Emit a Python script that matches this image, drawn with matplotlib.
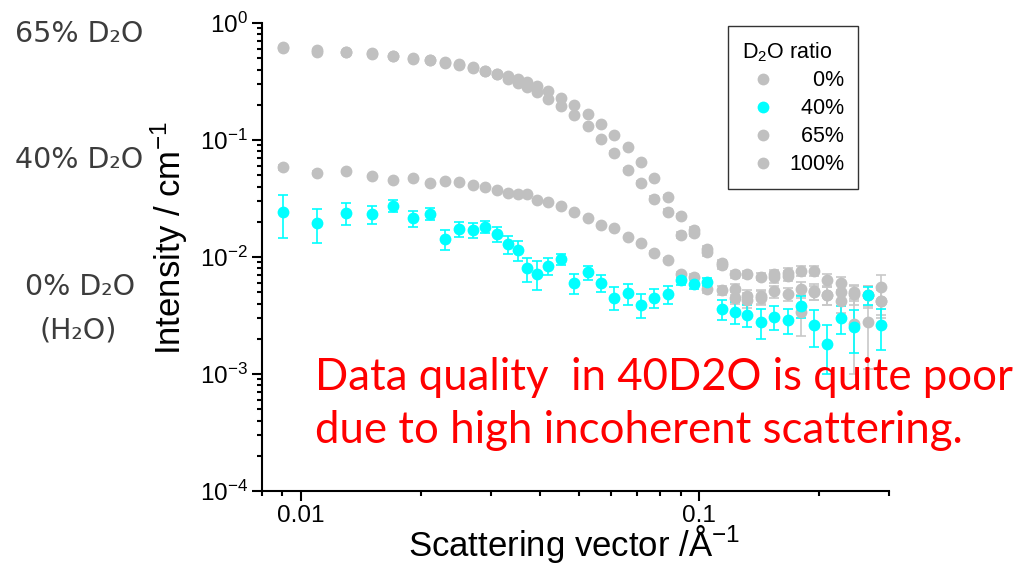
import numpy as np
import matplotlib
matplotlib.use('Agg')
import matplotlib.pyplot as plt
from matplotlib.lines import Line2D
from matplotlib.ticker import NullFormatter, FixedLocator, FixedFormatter, LogLocator

plt.rcParams['font.family'] = ['Liberation Sans', 'DejaVu Sans']
plt.rcParams['mathtext.fontset'] = 'custom'
plt.rcParams['mathtext.rm'] = 'Liberation Sans'
plt.rcParams['mathtext.it'] = 'Liberation Sans:italic'
plt.rcParams['mathtext.bf'] = 'Liberation Sans:bold'

# scattering vector (1/A)
q = [0.00905, 0.0110, 0.0130, 0.0151, 0.0171, 0.0191, 0.0211, 0.0231, 0.0250, 0.0271,
     0.0290, 0.0311, 0.0332, 0.0351, 0.0371, 0.0392, 0.0418, 0.0451, 0.0487, 0.0526,
     0.0568, 0.0613, 0.0663, 0.0715, 0.0773, 0.0835, 0.0902, 0.0973, 0.105, 0.114,
     0.123, 0.132, 0.143, 0.154, 0.167, 0.180, 0.195, 0.210, 0.227, 0.245,
     0.265, 0.286]

# 100% D2O
i100 = [0.620, 0.585, 0.565, 0.551, 0.522, 0.499, 0.483, 0.461, 0.443, 0.418,
        0.391, 0.368, 0.352, 0.330, 0.311, 0.290, 0.264, 0.229, 0.199, 0.166,
        0.136, 0.110, 0.0866, 0.0645, 0.0470, 0.0327, 0.0225, 0.0170, 0.0116, 0.0088,
        0.0071, 0.0071, 0.0068, 0.0071, 0.0073, 0.0076, 0.0076, 0.0064, 0.0060, 0.0050,
        0.0047, 0.0055]
e100 = [0.012, 0.011, 0.010, 0.010, 0.009, 0.009, 0.008, 0.008, 0.008, 0.007,
        0.007, 0.006, 0.006, 0.006, 0.005, 0.005, 0.005, 0.004, 0.004, 0.003,
        0.003, 0.003, 0.002, 0.002, 0.0015, 0.0012, 0.0010, 0.0009, 0.0008, 0.0006,
        0.0005, 0.0005, 0.0005, 0.0006, 0.0007, 0.0007, 0.0007, 0.0008, 0.0008, 0.0008,
        0.0009, 0.0015]

# 65% D2O
i65 = [0.615, 0.570, 0.560, 0.548, 0.520, 0.496, 0.480, 0.458, 0.440, 0.415,
       0.388, 0.366, 0.330, 0.305, 0.282, 0.259, 0.224, 0.195, 0.163, 0.132,
       0.101, 0.0780, 0.0552, 0.0429, 0.0316, 0.0244, 0.0154, 0.0160, 0.0110, 0.0085,
       0.0053, 0.0046, 0.0045, 0.0067, 0.0069, 0.0053, 0.0051, 0.0047, 0.0050, 0.0048,
       0.0028, 0.0042]
e65 = [0.012, 0.011, 0.010, 0.010, 0.009, 0.009, 0.008, 0.008, 0.008, 0.007,
       0.007, 0.006, 0.006, 0.006, 0.005, 0.005, 0.005, 0.004, 0.004, 0.003,
       0.003, 0.003, 0.002, 0.002, 0.0015, 0.0012, 0.0010, 0.0009, 0.0008, 0.0006,
       0.0006, 0.0006, 0.0006, 0.0007, 0.0007, 0.0008, 0.0008, 0.0008, 0.0009, 0.0009,
       0.0017, 0.0012]

# 0% D2O
i0 = [0.0585, 0.0526, 0.0540, 0.0492, 0.0458, 0.0477, 0.0431, 0.0446, 0.0440, 0.0412,
      0.0394, 0.0372, 0.0354, 0.0346, 0.0346, 0.0306, 0.0294, 0.0272, 0.0244, 0.0217,
      0.0188, 0.0176, 0.0148, 0.0132, 0.0109, 0.0095, 0.0072, 0.0067, 0.0053, 0.0052,
      0.0045, 0.0043, 0.0046, 0.0051, 0.0048, 0.0034, 0.0050, 0.0047, 0.0042, 0.0027,
      0.0047, 0.0042]
e0 = [0.0030, 0.0015, 0.0015, 0.0012, 0.0010, 0.0010, 0.0009, 0.0009, 0.0008, 0.0008,
      0.0007, 0.0007, 0.0006, 0.0006, 0.0006, 0.0005, 0.0005, 0.0005, 0.0004, 0.0004,
      0.0004, 0.0003, 0.0003, 0.0003, 0.0003, 0.0003, 0.0003, 0.0004, 0.0004, 0.0005,
      0.0005, 0.0006, 0.0006, 0.0006, 0.0006, 0.0013, 0.0007, 0.0008, 0.0009, 0.0017,
      0.0010, 0.0010]

# 40% D2O
i40 = [0.0241, 0.0196, 0.0238, 0.0232, 0.0274, 0.0214, 0.0235, 0.0142, 0.0173, 0.0170,
       0.0181, 0.0157, 0.0128, 0.0114, 0.0080, 0.0072, 0.0084, 0.0096, 0.0060, 0.0074,
       0.0060, 0.0045, 0.0049, 0.0039, 0.0045, 0.0048, 0.0063, 0.0059, 0.0061, 0.0036,
       0.0034, 0.0032, 0.0028, 0.0031, 0.0029, 0.0038, 0.0026, 0.0018, 0.0030, 0.0025,
       0.0047, 0.0026]
e40 = [0.0096, 0.0063, 0.0049, 0.0042, 0.0033, 0.0035, 0.0029, 0.0027, 0.0025, 0.0025,
       0.0022, 0.0022, 0.0022, 0.0022, 0.0019, 0.0020, 0.0014, 0.0011, 0.0012, 0.0010,
       0.0010, 0.0010, 0.0010, 0.0009, 0.0008, 0.0008, 0.0005, 0.0006, 0.0005, 0.0007,
       0.0007, 0.0007, 0.0008, 0.0007, 0.0007, 0.0008, 0.0009, 0.0008, 0.0008, 0.0010,
       0.0008, 0.0010]

legend_labels = ['0%', '40%', '65%', '100%']

W, H = 1019, 571
fig = plt.figure(figsize=(W/100, H/100), dpi=100)
ax = fig.add_axes([262/W, 1-491/H, 627/W, 468/H])

grey, egrey, cyan = '#C0C0C0', '#C8C8C8', '#00FFFF'
ms = 8.5
for y, e in [(i0, e0), (i65, e65), (i100, e100)]:
    ax.errorbar(q, y, yerr=e, fmt='o', color=grey, ms=ms, mec='none',
                ecolor=egrey, elinewidth=1.2, capsize=3.5, capthick=1.2)
ax.errorbar(q, i40, yerr=e40, fmt='o', color=cyan, ms=ms, mec='none',
            ecolor=cyan, elinewidth=1.2, capsize=3.8, capthick=1.2)

ax.set_xscale('log')
ax.set_yscale('log')
ax.set_xlim(0.008, 0.3)
ax.set_ylim(1e-4, 1)

for s in ['top', 'right']:
    ax.spines[s].set_visible(False)
for s in ['left', 'bottom']:
    ax.spines[s].set_linewidth(1.5)

ax.xaxis.set_major_locator(FixedLocator([0.01, 0.1]))
ax.xaxis.set_major_formatter(FixedFormatter(['0.01', '0.1']))
ax.xaxis.set_minor_locator(LogLocator(base=10, subs=np.arange(2, 10)))
ax.xaxis.set_minor_formatter(NullFormatter())
ax.yaxis.set_major_locator(FixedLocator([1e-4, 1e-3, 1e-2, 1e-1, 1]))
ax.yaxis.set_major_formatter(FixedFormatter([r'10$^{-4}$', r'10$^{-3}$', r'10$^{-2}$',
                                             r'10$^{-1}$', r'10$^{0}$']))
ax.yaxis.set_minor_locator(LogLocator(base=10, subs=np.arange(2, 10)))
ax.yaxis.set_minor_formatter(NullFormatter())
ax.tick_params(which='major', direction='out', length=7, width=1.5, labelsize=17.5, pad=3)
ax.tick_params(which='minor', direction='out', length=3.5, width=1.5)

ax.set_xlabel(r'Scattering vector /$\mathrm{\AA}^{-1}$', fontsize=25)
ax.xaxis.label.set_verticalalignment('baseline')
ax.xaxis.set_label_coords(0.498, -0.138)
ax.set_ylabel(r'Intensity / cm$^{-1}$', fontsize=25)
ax.yaxis.set_label_coords(-0.115, 0.54)

# legend: markers only, labels right-aligned with figure spaces
handles = [Line2D([], [], ls='none', marker='o', ms=ms, mec='none', color=c)
           for c in [grey, cyan, grey, grey]]
width = max(len(s) for s in legend_labels)
padded = ['\u2007' * (width - len(s)) + s for s in legend_labels]
leg = ax.legend(handles, padded,
                title=r'D$_2$O ratio', loc='upper right', bbox_to_anchor=(0.9506, 0.9936),
                borderaxespad=0, fontsize=15.5, title_fontsize=15.5, fancybox=False,
                edgecolor='#333333', framealpha=1, handlelength=1.95, handletextpad=0.25,
                labelspacing=0.32, borderpad=0.65, alignment='left')
leg.get_frame().set_linewidth(1.0)

# labels pasted on the left
lab_kw = dict(fontsize=20.5, color='#3c3c3c', va='center', family='DejaVu Sans')
fig.text(15/W, 1-34/H, '65% D\u2082O', **lab_kw)
fig.text(15/W, 1-160/H, '40% D\u2082O', **lab_kw)
fig.text(25/W, 1-287/H, '0% D\u2082O', **lab_kw)
fig.text(40/W, 1-330/H, '(H\u2082O)', **lab_kw)

# note in red
fig.text(315/W, 1-390/H, 'Data quality  in 40D2O is quite poor', fontsize=31.5,
         color='red', family='Lato', va='baseline')
fig.text(315/W, 1-443/H, 'due to high incoherent scattering.', fontsize=31.5,
         color='red', family='Lato', va='baseline')

fig.savefig('out.png', dpi=100)
